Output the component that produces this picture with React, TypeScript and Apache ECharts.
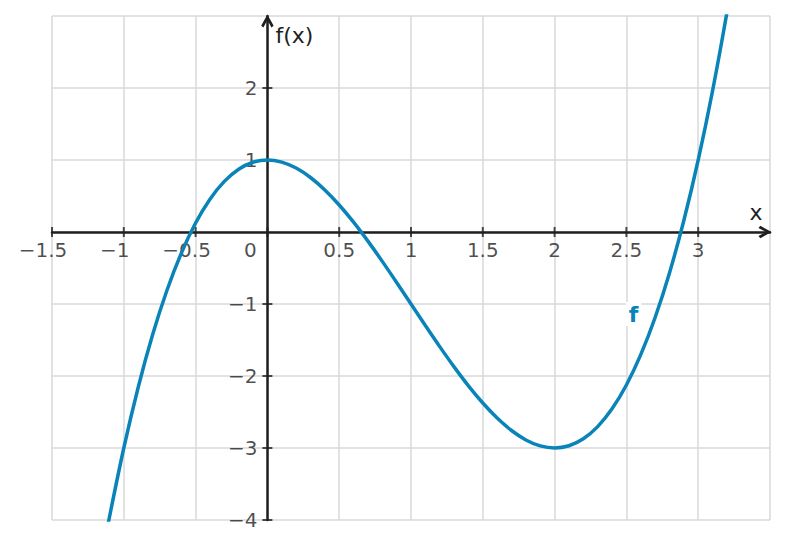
import React, { useEffect, useRef } from 'react';
import * as echarts from 'echarts';

const xSamples = [-1.15, -1.1, -1.0, -0.9, -0.8, -0.7, -0.6, -0.5, -0.4, -0.3, -0.2, -0.1, 0, 0.1, 0.2, 0.3, 0.4, 0.5, 0.6, 0.7, 0.8, 0.9, 1.0, 1.1, 1.2, 1.3, 1.4, 1.5, 1.6, 1.7, 1.8, 1.9, 2.0, 2.1, 2.2, 2.3, 2.4, 2.5, 2.6, 2.7, 2.8, 2.9, 3.0, 3.1, 3.2, 3.25];
const fSamples = [-4.488, -3.961, -3, -2.159, -1.432, -0.813, -0.296, 0.125, 0.456, 0.703, 0.872, 0.969, 1, 0.971, 0.888, 0.757, 0.584, 0.375, 0.136, -0.127, -0.408, -0.701, -1, -1.299, -1.592, -1.873, -2.136, -2.375, -2.584, -2.757, -2.888, -2.971, -3, -2.969, -2.872, -2.703, -2.456, -2.125, -1.704, -1.187, -0.568, 0.159, 1, 1.961, 3.048, 3.67];

const xTickValues = [-1.5, -1, -0.5, 0, 0.5, 1, 1.5, 2, 2.5, 3];
const xTickLabels = ['−1.5', '−1', '−0.5', '0', '0.5', '1', '1.5', '2', '2.5', '3'];
const yTickValues = [-4, -3, -2, -1, 1, 2];
const yTickLabels = ['−4', '−3', '−2', '−1', '1', '2'];

const xName = 'x';
const yName = 'f(x)';
const seriesName = 'f';
const labelPos = [2.55, -1.14];

const AXIS = '#1f1f1f';
const GRID = '#d9d9d9';
const CURVE = '#0a84b8';
const FONT = 'DejaVu Sans';

const chevron = 'path://M0,9 L5,0 L10,9 L8.2,10.4 L5,4.4 L1.8,10.4 Z';

export default function App() {
  const ref = useRef<HTMLDivElement>(null);
  useEffect(() => {
    if (!ref.current) return;
    const chart = echarts.init(ref.current, null, { renderer: 'svg' });
    chart.setOption({
      animation: false,
      grid: { left: 52, right: 18, top: 16, bottom: 29, containLabel: false },
      xAxis: {
        type: 'value',
        min: -1.5,
        max: 3.5,
        interval: 0.5,
        axisLine: {
          show: true,
          onZero: true,
          symbol: ['none', chevron],
          symbolSize: [14, 13],
          symbolOffset: [0, -5],
          lineStyle: { color: AXIS, width: 2.5 },
        },
        axisTick: { show: false },
        axisLabel: { show: false },
        splitLine: { show: true, lineStyle: { color: GRID, width: 1.5 } },
      },
      yAxis: {
        type: 'value',
        min: -4,
        max: 3,
        interval: 1,
        axisLine: {
          show: true,
          onZero: true,
          symbol: ['none', chevron],
          symbolSize: [14, 13],
          symbolOffset: [0, -5],
          lineStyle: { color: AXIS, width: 2.5 },
        },
        axisTick: { show: false },
        axisLabel: { show: false },
        splitLine: { show: true, lineStyle: { color: GRID, width: 1.5 } },
      },
      series: [
        {
          name: seriesName,
          type: 'line',
          data: xSamples.map((x, i) => [x, fSamples[i]]),
          showSymbol: false,
          smooth: 0.3,
          clip: true,
          lineStyle: { color: CURVE, width: 3.5 },
          z: 3,
        },
        {
          name: 'xticks',
          type: 'scatter',
          data: xTickValues.map((x) => ({
            value: [x, 0],
            label: { offset: x === 0 ? [-17, 0] : x < 0 ? [-9, 0] : [0, 0] },
          })),
          symbol: 'rect',
          symbolSize: [2, 10],
          itemStyle: { color: AXIS },
          silent: true,
          clip: false,
          z: 2,
          label: {
            show: true,
            position: 'bottom',
            distance: 3,
            color: AXIS,
            fontFamily: FONT,
            fontSize: 20,
            formatter: (p: any) => xTickLabels[p.dataIndex],
          },
        },
        {
          name: 'yticks',
          type: 'scatter',
          data: yTickValues.map((y) => [0, y]),
          symbol: 'rect',
          symbolSize: [10, 2],
          itemStyle: { color: AXIS },
          silent: true,
          clip: false,
          z: 2,
          label: {
            show: true,
            position: 'left',
            distance: 5,
            color: AXIS,
            fontFamily: FONT,
            fontSize: 20,
            formatter: (p: any) => yTickLabels[p.dataIndex],
          },
        },
      ],
    });
    const pLabel = chart.convertToPixel({ gridIndex: 0 }, labelPos) as number[];
    const pY = chart.convertToPixel({ gridIndex: 0 }, [0, 3]) as number[];
    const pX = chart.convertToPixel({ gridIndex: 0 }, [3.5, 0]) as number[];
    chart.setOption({
      graphic: [
        {
          type: 'text',
          x: pLabel[0],
          y: pLabel[1],
          z: 100,
          style: {
            text: seriesName,
            fill: CURVE,
            font: `bold 22px "${FONT}"`,
            align: 'center',
            verticalAlign: 'middle',
            backgroundColor: '#ffffff',
            padding: [1, 3],
          },
        },
        {
          type: 'text',
          x: pY[0] + 8,
          y: pY[1] + 19,
          z: 100,
          style: {
            text: yName,
            fill: AXIS,
            font: `22px "${FONT}"`,
            align: 'left',
            verticalAlign: 'middle',
          },
        },
        {
          type: 'text',
          x: pX[0] - 14,
          y: pX[1] - 20,
          z: 100,
          style: {
            text: xName,
            fill: AXIS,
            font: `22px "${FONT}"`,
            align: 'center',
            verticalAlign: 'middle',
          },
        },
      ],
    });
    return () => chart.dispose();
  }, []);
  return (
    <div
      ref={ref}
      style={{ position: 'absolute', left: 0, top: 0, width: 788, height: 549, background: '#ffffff' }}
    />
  );
}
